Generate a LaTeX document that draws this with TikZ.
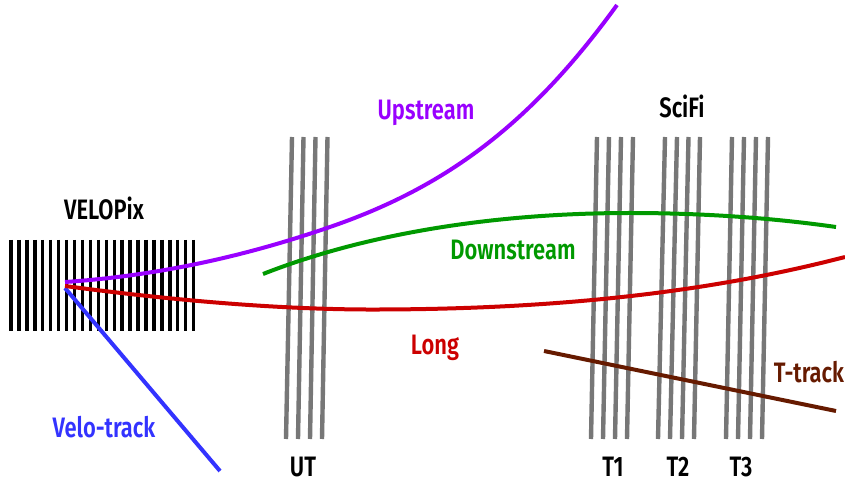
\documentclass[tikz,border=0pt]{standalone}
\usepackage{fontspec}
\setmainfont[FakeStretch=0.78]{Fira Sans SemiBold}
\usepackage{tikz}
\usetikzlibrary{positioning}
\definecolor{upstreampurple}{RGB}{153,0,255}
\definecolor{downstreamgreen}{RGB}{0,153,0}
\definecolor{longred}{RGB}{204,0,0}
\definecolor{velotrackblue}{RGB}{51,51,255}
\definecolor{ttrackbrown}{RGB}{102,26,0}
\definecolor{layergray}{RGB}{119,119,119}

\begin{document}
\begin{tikzpicture}[
  x=0.02cm, y=-0.02cm,
  velostrip/.style={draw=black, line width=3.4*0.02cm},
  layer/.style={draw=layergray, line width=4.4*0.02cm},
  track/.style={line width=4*0.02cm},
  lbl/.style={font=\fontsize{16}{18}\selectfont, inner sep=0pt, anchor=base}
]
\useasboundingbox (0,0) rectangle (845,479);

%% VELO strips
\foreach \xpos in {0,...,23}
  \draw[velostrip] ({11+7.94*\xpos},240) -- ({11+7.94*\xpos},331);

%% UT layers
\foreach \xtop/\xbot in {292/286, 303.5/298, 315.5/310, 327.5/322}
  \draw[layer] (\xtop,137) -- (\xbot,439);

%% SciFi layers
\foreach \xtop/\xbot in {597/591, 609/603, 621/615, 633/627,
                         665/658, 677/670, 688.5/682, 700/694,
                         732/726, 744/738, 756/750, 768/762}
  \draw[layer] (\xtop,137) -- (\xbot,439);

%% Tracks
\draw[track, upstreampurple] (65,282) .. controls (170,275) and (260,251) .. (327,228)
  .. controls (445,188) and (530,125) .. (617,5);
\draw[track, downstreamgreen] (263,274) .. controls (370,232) and (500,213) .. (630,213)
  .. controls (710,213) and (780,219) .. (836,227);
\draw[track, velotrackblue] (65,288) -- (220,471);
\draw[track, longred] (65,286) .. controls (170,300) and (280,310) .. (380,309.5)
  .. controls (560,309) and (710,292) .. (845,257);
\draw[track, ttrackbrown] (544,351) -- (836,411);

%% Detector labels
\node[lbl] (velopix) at (104,220) {VELOPix};
\node[lbl] (scifi)   at (682,118) {SciFi};
\node[lbl] (ut)      at (303,476) {UT};
\node[lbl] (tone)    at (613,476) {T1};
\node[lbl] (ttwo)    at (678,476) {T2};
\node[lbl] (tthree)  at (741,476) {T3};

%% Track labels
\node[lbl, upstreampurple]  (upstream)   at (426,120) {Upstream};
\node[lbl, downstreamgreen] (downstream) at (513,260) {Downstream};
\node[lbl, longred]         (long)       at (435,355) {Long};
\node[lbl, ttrackbrown]     (ttrack)     at (809,382) {T-track};
\node[lbl, velotrackblue]   (velotrack)  at (104,438) {Velo-track};
\end{tikzpicture}
\end{document}
